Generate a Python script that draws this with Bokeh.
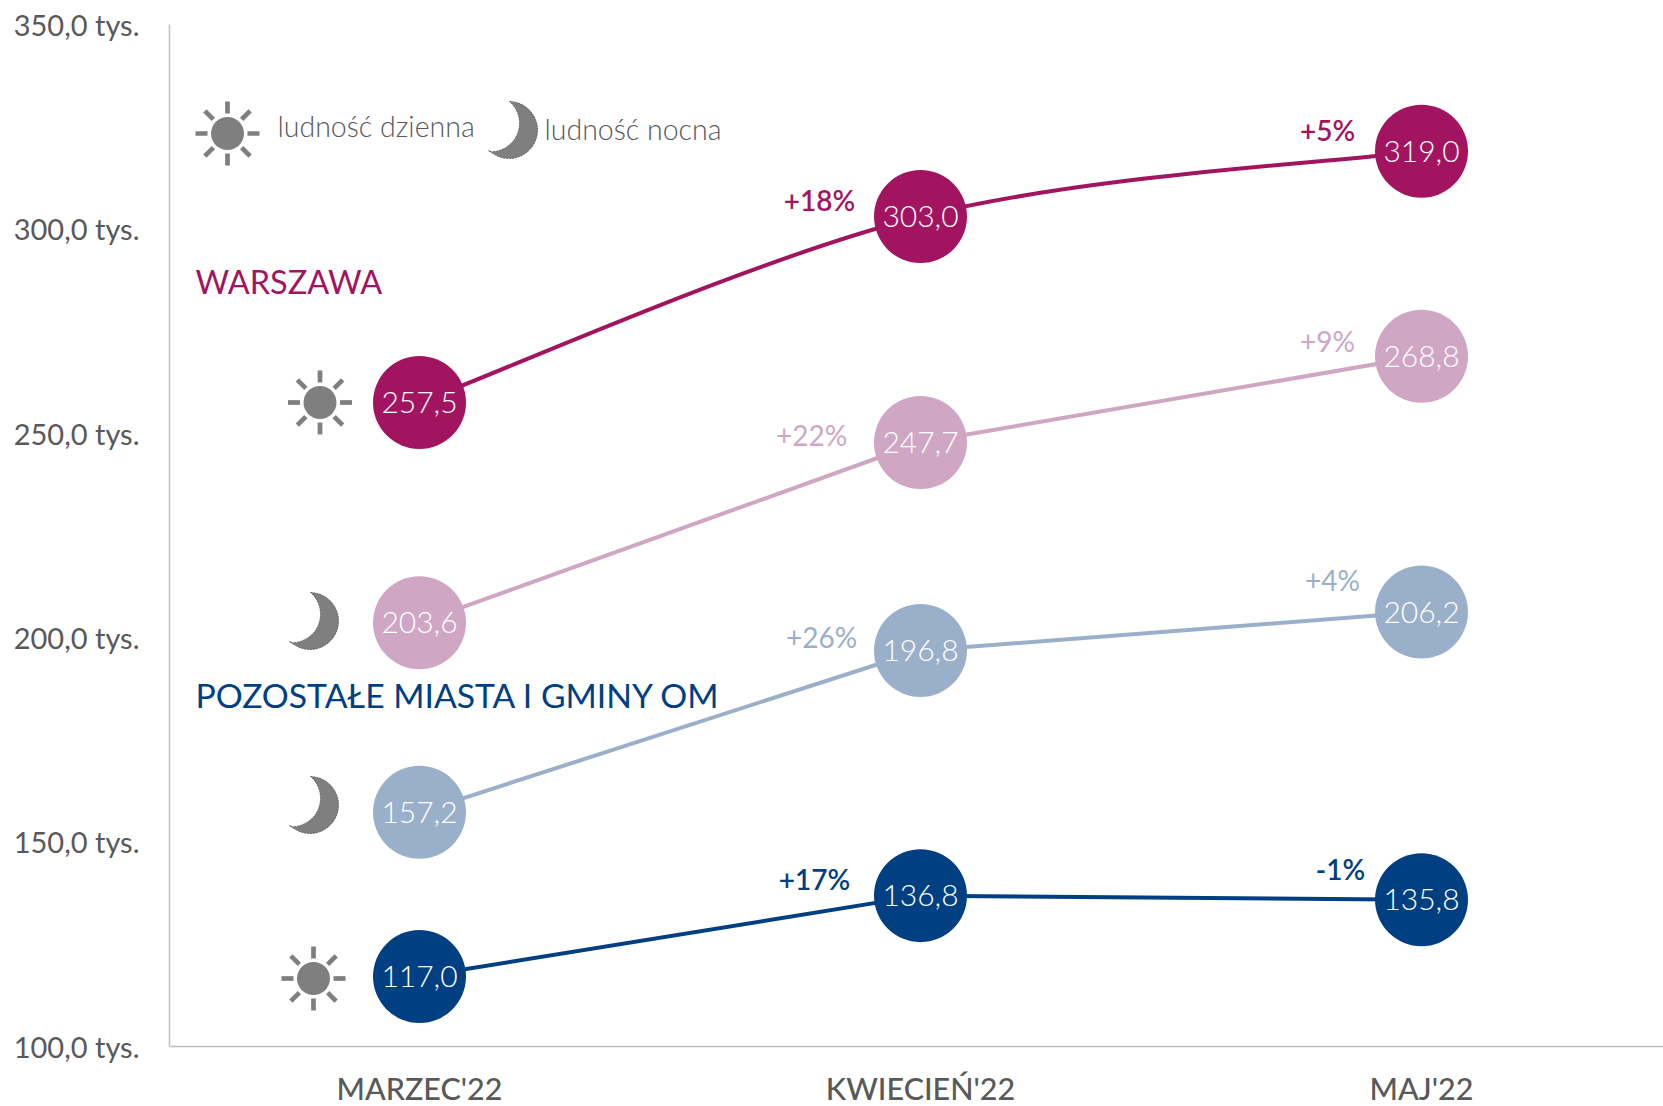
import math
from bokeh.plotting import figure
from bokeh.models import Range1d, FixedTicker
from bokeh.core.properties import value
from bokeh.embed import file_html
from bokeh.resources import INLINE

# ---- data ----
categories = ["MARZEC'22", "KWIECIEŃ'22", "MAJ'22"]
y_ticks = [100, 150, 200, 250, 300, 350]
y_tick_labels = ["100,0 tys.", "150,0 tys.", "200,0 tys.", "250,0 tys.", "300,0 tys.", "350,0 tys."]

warszawa_day = [257.5, 303.0, 319.0]
warszawa_night = [203.6, 247.7, 268.8]
om_night = [157.2, 196.8, 206.2]
om_day = [117.0, 136.8, 135.8]

warszawa_day_labels = ["257,5", "303,0", "319,0"]
warszawa_night_labels = ["203,6", "247,7", "268,8"]
om_night_labels = ["157,2", "196,8", "206,2"]
om_day_labels = ["117,0", "136,8", "135,8"]

warszawa_day_change = ["+18%", "+5%"]
warszawa_night_change = ["+22%", "+9%"]
om_night_change = ["+26%", "+4%"]
om_day_change = ["+17%", "-1%"]

# ---- style ----
C_WD, C_WN, C_ON, C_OD = "#A31460", "#CFA6C4", "#9AB0CA", "#003F82"
GREY = "#7F7F7F"; TXT = "#595959"; AXIS = "#BFBFBF"
W, H = 1663, 1106
LEFT, TOP, BASE = 169, 24, 1045.5
STEP = 501.0
X0 = 419.0


def dx(px):
    return (px - X0) / STEP


def dy(py):
    return 100 + (BASE - py) * 250.0 / (BASE - TOP)


p = figure(width=W, height=H, output_backend="svg", toolbar_location=None,
           x_range=Range1d(dx(LEFT), dx(W)), y_range=Range1d(dy(H), 350),
           min_border_left=LEFT, min_border_right=0,
           min_border_top=TOP, min_border_bottom=0)
p.grid.visible = False
p.outline_line_color = None
p.background_fill_color = "white"

p.xaxis.ticker = FixedTicker(ticks=list(range(len(categories))))
p.xaxis.major_label_overrides = {i: c for i, c in enumerate(categories)}
p.xaxis.fixed_location = 100
p.yaxis.ticker = FixedTicker(ticks=y_ticks)
p.yaxis.major_label_overrides = dict(zip(y_ticks, y_tick_labels))
p.yaxis.bounds = (100, 350)
for ax in (p.xaxis, p.yaxis):
    ax.axis_line_color = AXIS
    ax.axis_line_width = 1.5
    ax.major_tick_line_color = None
    ax.minor_tick_line_color = None
    ax.major_tick_out = 0
    ax.major_tick_in = 0
    ax.minor_tick_out = 0
    ax.minor_tick_in = 0
    ax.major_label_text_color = TXT
p.yaxis.major_label_text_font = "Lato"
p.yaxis.major_label_text_font_size = "29px"
p.yaxis.major_label_standoff = 30
p.xaxis.major_label_text_font = "Lato Medium"
p.xaxis.major_label_text_font_size = "30.5px"
p.xaxis.major_label_standoff = 24

xs = list(range(len(categories)))
series = [
    (warszawa_day, warszawa_day_labels, warszawa_day_change, C_WD, True,
     [(-101, -17), (-94, -21)], True),
    (warszawa_night, warszawa_night_labels, warszawa_night_change, C_WN, False,
     [(-109, -7), (-94, -15)], False),
    (om_night, om_night_labels, om_night_change, C_ON, False,
     [(-99, -13), (-89, -32)], False),
    (om_day, om_day_labels, om_day_change, C_OD, False,
     [(-106, -17), (-81, -31)], True),
]

for vals, labs, chg, col, smooth, offs, bold in series:
    if smooth:
        n = len(vals)
        for i in range(n - 1):
            a = max(i - 1, 0); b = min(i + 2, n - 1)
            c0x = xs[i] + (xs[i + 1] - xs[a]) / 6
            c0y = vals[i] + (vals[i + 1] - vals[a]) / 6
            c1x = xs[i + 1] - (xs[b] - xs[i]) / 6
            c1y = vals[i + 1] - (vals[b] - vals[i]) / 6
            p.bezier(x0=[xs[i]], y0=[vals[i]], x1=[xs[i + 1]], y1=[vals[i + 1]],
                     cx0=[c0x], cy0=[c0y], cx1=[c1x], cy1=[c1y],
                     line_color=col, line_width=4)
    else:
        p.line(xs, vals, line_color=col, line_width=4)
    p.scatter(xs, vals, size=93, marker="circle", fill_color=col, line_color=None)
    p.text(xs, vals, text=labs, text_color="white", text_font=value("Lato Light"),
           text_font_size="30px", text_align="center", text_baseline="middle")
    for j, t in enumerate(chg):
        p.text([xs[j + 1]], [vals[j + 1]], text=[t], text_color=col,
               text_font=value("Lato Semibold" if bold else "Lato"),
               text_font_size="28px",
               text_align="center", text_baseline="middle",
               x_offset=offs[j][0], y_offset=offs[j][1])


def sun(cx, cy):
    for k in range(8):
        a = k * math.pi / 4
        p.segment([dx(cx + 20 * math.cos(a))], [dy(cy + 20 * math.sin(a))],
                  [dx(cx + 32 * math.cos(a))], [dy(cy + 32 * math.sin(a))],
                  line_color=GREY, line_width=4.7)
    p.scatter([dx(cx)], [dy(cy)], size=33, marker="circle", fill_color=GREY, line_color=None)


def circum(a, b, c):
    d = 2 * (a[0] * (b[1] - c[1]) + b[0] * (c[1] - a[1]) + c[0] * (a[1] - b[1]))
    s = lambda q: q[0] ** 2 + q[1] ** 2
    ux = (s(a) * (b[1] - c[1]) + s(b) * (c[1] - a[1]) + s(c) * (a[1] - b[1])) / d
    uy = (s(a) * (c[0] - b[0]) + s(b) * (a[0] - c[0]) + s(c) * (b[0] - a[0])) / d
    return ux, uy


def moon(ox, oy):
    top = (310 + ox, 592 + oy); bot = (288 + ox, 642 + oy)
    outer = circum(top, (338 + ox, 619 + oy), (309 + ox, 649 + oy))
    inner = circum(top, (320 + ox, 613 + oy), bot)
    R = math.dist(outer, top); r = math.dist(inner, top)
    pts = []
    a0 = math.atan2(top[1] - outer[1], top[0] - outer[0])
    a1 = math.atan2(bot[1] - outer[1], bot[0] - outer[0])
    for i in range(41):
        a = a0 + (a1 - a0) * i / 40
        pts.append((outer[0] + R * math.cos(a), outer[1] + R * math.sin(a)))
    b0 = math.atan2(bot[1] - inner[1], bot[0] - inner[0])
    b1 = math.atan2(top[1] - inner[1], top[0] - inner[0])
    for i in range(1, 41):
        a = b0 + (b1 - b0) * i / 40
        pts.append((inner[0] + r * math.cos(a), inner[1] + r * math.sin(a)))
    p.patch([dx(q[0]) for q in pts], [dy(q[1]) for q in pts], fill_color=GREY,
            line_color="#555555", line_width=0.8, line_dash="2 1")


sun(227, 133); sun(319.5, 402); sun(313, 978)
moon(0, 0); moon(0, 184); moon(199, -491)


def note(x, y, t, col, font, size):
    p.text([dx(x)], [dy(y)], text=[t], text_color=col, text_font=value(font),
           text_font_size=size, text_align="left", text_baseline="middle")


note(277, 125, "ludność dzienna", TXT, "Lato Light", "28.5px")
note(544, 128, "ludność nocna", TXT, "Lato Light", "28.5px")
note(195, 281, "WARSZAWA", C_WD, "Lato", "32.5px")
note(195, 694, "POZOSTAŁE MIASTA I GMINY OM", C_OD, "Lato", "33.7px")

open("out.html", "w").write(file_html(p, INLINE))
